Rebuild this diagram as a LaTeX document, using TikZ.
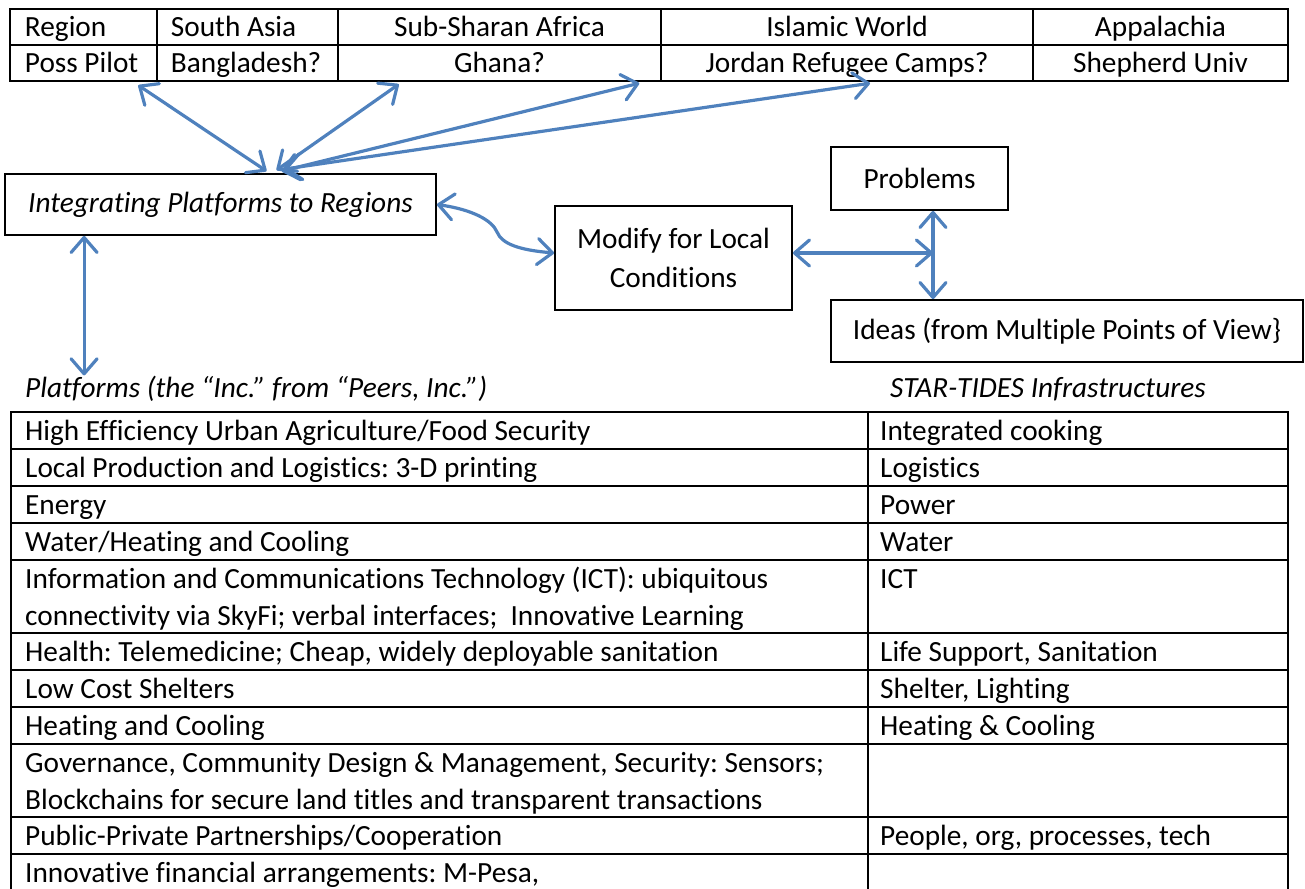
\documentclass[tikz,border=0pt]{standalone}
\usepackage{fontspec}
\setmainfont{Carlito}[Ligatures=NoCommon]
\usetikzlibrary{arrows.meta}
\definecolor{linkblue}{RGB}{79,129,189}
\newcommand\bodyfont{\fontsize{29.3}{37}\selectfont}
\frenchspacing

\begin{document}
\begin{tikzpicture}[x=1pt, y=-1pt, font=\bodyfont,
    every node/.style={inner sep=0pt},
    cell/.style={draw, line width=2.5pt, minimum height=36pt},
    tbox/.style={draw, line width=1.8pt, align=center},
    tabline/.style={line width=2.5pt},
    conn/.style={line width=3.2pt, linkblue, {Straight Barb[length=15pt,width=26pt,round]}-{Straight Barb[length=15pt,width=26pt,round]}}]

 \useasboundingbox (0,0) rectangle (1305,888);

 %regions table
 \foreach \n/\xa/\xb in {1/10/157, 2/157/338, 3/338/661, 4/661/1033, 5/1033/1288} {
     \node[cell, minimum width=\xb-\xa] (R\n) at ({(\xa+\xb)/2}, 27) {};
     \node[cell, minimum width=\xb-\xa] (P\n) at ({(\xa+\xb)/2}, 63) {};
 }

 \node[anchor=base west] at ([xshift=16pt,yshift=-9.5pt]R1.west) {Region};
 \node[anchor=base west] at ([xshift=15pt,yshift=-9.5pt]R2.west) {South Asia};
 \node[anchor=base] at ([yshift=-9.5pt]R3.center) {Sub-Sharan Africa};
 \node[anchor=base] at ([yshift=-9.5pt]R4.center) {Islamic World};
 \node[anchor=base] at ([yshift=-9.5pt]R5.center) {Appalachia};

 \node[anchor=base west] at ([xshift=16pt,yshift=-9.5pt]P1.west) {Poss Pilot};
 \node[anchor=base west] at ([xshift=15pt,yshift=-9.5pt]P2.west) {Bangladesh?};
 \node[anchor=base] at ([yshift=-9.5pt]P3.center) {Ghana?};
 \node[anchor=base] at ([yshift=-9.5pt]P4.center) {Jordan Refugee Camps?};
 \node[anchor=base] at ([yshift=-9.5pt]P5.center) {Shepherd Univ};

 %boxes
 \node[tbox, minimum width=431pt, minimum height=61pt, font=\bodyfont\itshape] (integ) at (220.5,204.5) {Integrating Platforms to Regions};
 \node[tbox, minimum width=237pt, minimum height=104pt] (modify) at (673.5,258) {Modify for Local\\[2pt]Conditions};
 \node[tbox, minimum width=177pt, minimum height=63pt] (prob) at (919.5,178.5) {Problems};
 \node[tbox, minimum width=472pt, minimum height=62pt] (ideas) at (1067,331) {Ideas (from Multiple Points of View\}};

 \node[anchor=base west, font=\bodyfont\itshape] (plat) at (25,397) {Platforms (the “Inc.” from “Peers, Inc.”)};
 \node[anchor=base, font=\bodyfont\itshape] (star) at (1048,397) {STAR-TIDES Infrastructures};

 %arrows to the regions
 \draw[conn] ([xshift=46pt,yshift=2pt]integ.north) -- ([xshift=-20pt,yshift=-3pt]P1.south east);
 \draw[conn] ([xshift=56pt,yshift=3pt]integ.north) -- ([xshift=62pt,yshift=-2pt]P3.south west);
 \draw[conn] ([xshift=61pt,yshift=2pt]integ.north) -- ([xshift=-23pt,yshift=-1pt]P3.south east);
 \draw[conn] ([xshift=64pt,yshift=4pt]integ.north) -- ([xshift=23pt,yshift=-1pt]P4.south);

 %down to the platforms
 \draw[conn] ([xshift=80pt]integ.south west) -- ([xshift=80pt]integ.south west |- plat.north);

 %curved link
 \coordinate (bend) at (497,232);
 \draw[conn] (integ.east) .. controls +(35,5) and +(-5,-12) .. (bend) .. controls +(5,12) and +(-35,-3) .. ([yshift=5pt]modify.west);

 %problems and ideas
 \coordinate (junc) at (933,253);
 \draw[conn] ([yshift=5pt]modify.east) -- (junc);
 \draw[conn] (junc |- prob.south) -- (junc |- ideas.north);

 %platforms table
 \foreach \ya/\yb in {412/449, 449/486, 486/523, 523/560, 560/633, 633/670, 670/707, 707/744, 744/817, 817/854, 854/891} {
     \draw[tabline] (11,\ya) rectangle (868,\yb);
     \draw[tabline] (868,\ya) rectangle (1288,\yb);
 }

 \node[anchor=base west] (L1) at (25,440.5) {High Efficiency Urban Agriculture/Food Security};
 \node[anchor=base west] (L2) at (25,477.5) {Local Production and Logistics: 3-D printing};
 \node[anchor=base west] (L3) at (25,514.5) {Energy};
 \node[anchor=base west] (L4) at (25,551.5) {Water/Heating and Cooling};
 \node[anchor=base west, align=left] (L5) at (25,625.5) {Information and Communications Technology (ICT): ubiquitous\\connectivity via SkyFi; verbal interfaces;~ Innovative Learning};
 \node[anchor=base west] (L6) at (25,661.5) {Health: Telemedicine; Cheap, widely deployable sanitation};
 \node[anchor=base west] (L7) at (25,698.5) {Low Cost Shelters};
 \node[anchor=base west] (L8) at (25,735.5) {Heating and Cooling};
 \node[anchor=base west, align=left] (L9) at (25,809.5) {Governance, Community Design \& Management, Security: Sensors;\\Blockchains for secure land titles and transparent transactions};
 \node[anchor=base west] (L10) at (25,845.5) {Public-Private Partnerships/Cooperation};
 \node[anchor=base west] (L11) at (25,882.5) {Innovative financial arrangements: M-Pesa,};

 \node[anchor=base west] (S1) at (880,440.5) {Integrated cooking};
 \node[anchor=base west] (S2) at (880,477.5) {Logistics};
 \node[anchor=base west] (S3) at (880,514.5) {Power};
 \node[anchor=base west] (S4) at (880,551.5) {Water};
 \node[anchor=base west] (S5) at (880,588.5) {ICT};
 \node[anchor=base west] (S6) at (880,661.5) {Life Support, Sanitation};
 \node[anchor=base west] (S7) at (880,698.5) {Shelter, Lighting};
 \node[anchor=base west] (S8) at (880,735.5) {Heating \& Cooling};
 \node[anchor=base west] (S10) at (880,845.5) {People, org, processes, tech};

\end{tikzpicture}
\end{document}
